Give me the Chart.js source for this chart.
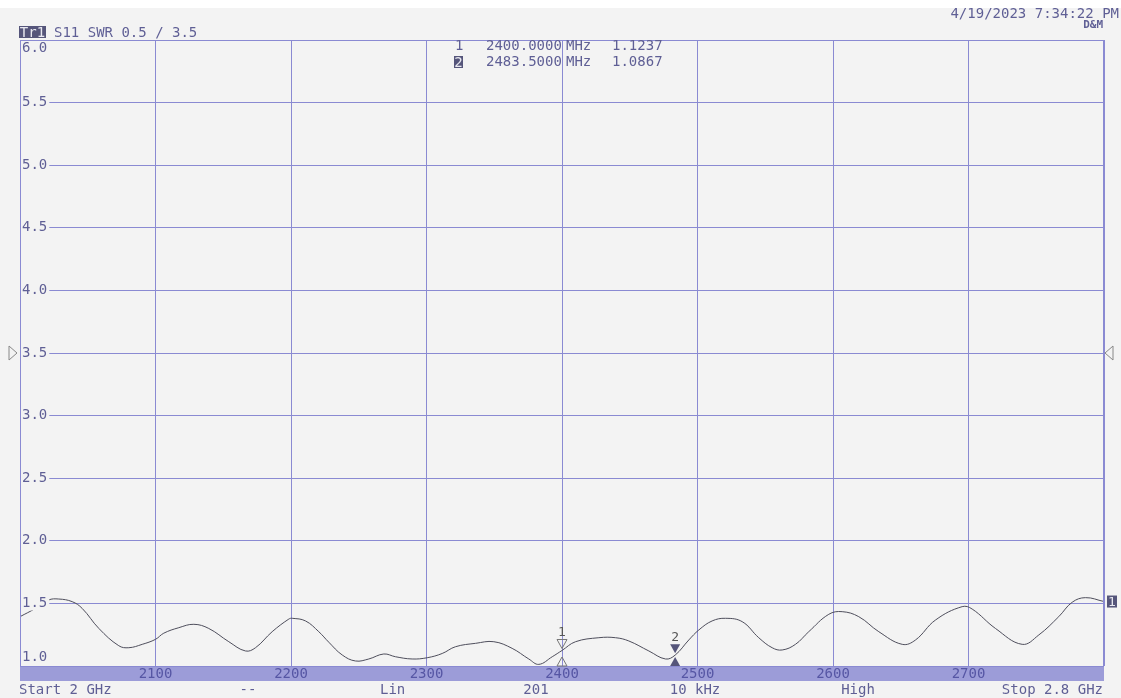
<!DOCTYPE html>
<html>
<head>
<meta charset="utf-8">
<script src="https://cdn.jsdelivr.net/npm/chart.js@4.4.0/dist/chart.umd.min.js"></script>
<style>
  html, body { margin: 0; padding: 0; background: #fff; }
  #wrap { width: 1121px; height: 698px; }
</style>
</head>
<body>
<div id="wrap"><canvas id="swr" width="1121" height="698"></canvas></div>
<script>
// trace S11 SWR
const freqMHz = [2000, 2011.4, 2021, 2028.6, 2038.5, 2045.9, 2058.2, 2072.9, 2080.3, 2090.2,
  2100, 2106.1, 2117.2, 2128.3, 2139.3, 2154.1, 2166.4, 2173.8, 2186.1, 2198.4,
  2200.9, 2210.7, 2220.5, 2227.9, 2237.8, 2247.6, 2257.4, 2268.5, 2277.1, 2289.4,
  2300.5, 2311.6, 2321.4, 2336.2, 2349.7, 2363.2, 2375.5, 2382.9, 2392.8, 2400,
  2410, 2427.2, 2439.5, 2449.3, 2464.1, 2476.4, 2483.5, 2493.6, 2501, 2510.8,
  2520.7, 2533, 2545.2, 2555.1, 2562.5, 2572.3, 2582.1, 2596.9, 2606.8, 2619,
  2633.8, 2651.1, 2660.9, 2675.6, 2695.3, 2702.7, 2719.9, 2739.6, 2751.9, 2766.6,
  2776.5, 2786.3, 2800];
const swr = [1.394, 1.46, 1.527, 1.535, 1.514, 1.46, 1.30, 1.162, 1.146, 1.173,
  1.213, 1.262, 1.306, 1.333, 1.30, 1.194, 1.12, 1.146, 1.274, 1.375,
  1.381, 1.36, 1.274, 1.19, 1.088, 1.04, 1.056, 1.096, 1.074, 1.056,
  1.066, 1.10, 1.154, 1.181, 1.194, 1.141, 1.056, 1.013, 1.074, 1.124,
  1.194, 1.226, 1.226, 1.20, 1.12, 1.056, 1.087, 1.208, 1.288, 1.36,
  1.381, 1.354, 1.226, 1.146, 1.128, 1.173, 1.274, 1.413, 1.434, 1.394,
  1.274, 1.173, 1.208, 1.367, 1.474, 1.455, 1.30, 1.173, 1.248, 1.394,
  1.509, 1.546, 1.515];

const yTicks = [1.0, 1.5, 2.0, 2.5, 3.0, 3.5, 4.0, 4.5, 5.0, 5.5, 6.0];
const xLabelTicks = [2100, 2200, 2300, 2400, 2500, 2600, 2700];
const markerFreq = [2400, 2483.5];
const markerSwr = [1.1237, 1.0867];
const refLevel = 3.5;
const footer = [['Start 2 GHz', 19, 'left'], ['--', 248, 'center'], ['Lin', 380, 'left'],
  ['201', 536, 'center'], ['10 kHz', 695, 'center'], ['High', 858, 'center'],
  ['Stop 2.8 GHz', 1103, 'right']];

const MONO = '"DejaVu Sans Mono", "Liberation Mono", monospace';
const gridColor = '#8a8ad2';
const textColor = '#5f5f95';
const bandColor = '#9c9cd8';
const bgColor = '#f3f3f3';

function tri(ctx, x, yTip, dir, filled) {
  // dir 1: points down (tip at bottom), -1: points up
  const h = 9, w = 5;
  ctx.beginPath();
  ctx.moveTo(x, yTip);
  ctx.lineTo(x - w, yTip - dir * h);
  ctx.lineTo(x + w, yTip - dir * h);
  ctx.closePath();
  if (filled) { ctx.fillStyle = '#55557a'; ctx.fill(); }
  else { ctx.strokeStyle = '#777'; ctx.lineWidth = 1; ctx.stroke(); }
}

function badge(ctx, txt, x, y, w) {
  ctx.fillStyle = '#55557a';
  ctx.fillRect(x, y - 6, w, 12);
  ctx.fillStyle = '#e8e8f0';
  ctx.textAlign = 'center';
  ctx.fillText(txt, x + w / 2, y + 1);
}

const screen = {
  id: 'screen',
  beforeDraw(chart) {
    const ctx = chart.ctx, a = chart.chartArea, xs = chart.scales.x;
    ctx.save();
    ctx.fillStyle = bgColor;
    ctx.fillRect(0, 8, chart.width, chart.height - 8);
    ctx.fillStyle = bandColor;
    ctx.fillRect(a.left, a.bottom, a.right - a.left, xs.bottom - a.bottom);
    ctx.restore();
  },
  afterDatasetsDraw(chart) {
    const ctx = chart.ctx, a = chart.chartArea;
    const xs = chart.scales.x, ys = chart.scales.y;
    ctx.save();
    // frame
    ctx.strokeStyle = gridColor;
    ctx.lineWidth = 1;
    ctx.strokeRect(a.left + 0.5, a.top + 0.5, a.right - a.left - 1, a.bottom - a.top);

    // y labels inside the plot
    ctx.font = '14px ' + MONO;
    ctx.textBaseline = 'middle';
    ctx.textAlign = 'left';
    yTicks.forEach((v, i) => {
      let y = ys.getPixelForValue(v);
      if (i === yTicks.length - 1) y += 8;
      if (i === 0) y -= 9;
      const t = v.toFixed(1);
      const w = ctx.measureText(t).width;
      ctx.fillStyle = bgColor;
      ctx.fillRect(a.left + 1, y - 7, w + 3, 14);
      ctx.fillStyle = textColor;
      ctx.fillText(t, a.left + 2, y);
    });

    // markers
    markerFreq.forEach((f, i) => {
      const x = xs.getPixelForValue(f);
      const y = ys.getPixelForValue(markerSwr[i]);
      const filled = i === 1;
      tri(ctx, x, y - 2, 1, filled);
      tri(ctx, x, a.bottom - 9, -1, filled);
      ctx.fillStyle = '#555';
      ctx.textAlign = 'center';
      ctx.font = '13px ' + MONO;
      ctx.fillText(String(i + 1), x, y - 18);
    });

    // reference level triangles
    const yr = ys.getPixelForValue(refLevel);
    ctx.strokeStyle = '#888';
    ctx.beginPath();
    ctx.moveTo(9, yr - 7); ctx.lineTo(17, yr); ctx.lineTo(9, yr + 7); ctx.closePath();
    ctx.stroke();
    ctx.beginPath();
    ctx.moveTo(a.right + 9, yr - 7); ctx.lineTo(a.right + 1, yr); ctx.lineTo(a.right + 9, yr + 7); ctx.closePath();
    ctx.stroke();

    // header
    ctx.font = '14px ' + MONO;
    badge(ctx, 'Tr1', 19, 32, 27);
    ctx.fillStyle = textColor;
    ctx.textAlign = 'left';
    ctx.fillText('S11 SWR 0.5 / 3.5', 54, 33);
    ctx.textAlign = 'right';
    ctx.fillText('4/19/2023 7:34:22 PM', 1119, 14);
    ctx.font = 'bold 11px ' + MONO;
    ctx.fillText('D&M', 1103, 25);

    // marker table
    ctx.font = '14px ' + MONO;
    ctx.fillStyle = textColor;
    ctx.textAlign = 'left';
    ctx.fillText('1', 455, 46);
    badge(ctx, '2', 454, 62, 9);
    ctx.font = '14px ' + MONO;
    ctx.fillStyle = textColor;
    ctx.textAlign = 'left';
    markerFreq.forEach((f, i) => {
      const y = 46 + i * 16;
      ctx.fillText(f.toFixed(4), 486, y);
      ctx.fillText('MHz', 566, y);
      ctx.fillText(markerSwr[i].toFixed(4), 612, y);
    });

    // trace end badge
    ctx.font = '13px ' + MONO;
    badge(ctx, '1', a.right + 3, ys.getPixelForValue(swr[swr.length - 1]), 10);

    // footer
    ctx.font = '14px ' + MONO;
    ctx.fillStyle = textColor;
    footer.forEach(([t, x, al]) => {
      ctx.textAlign = al;
      ctx.fillText(t, x, 690);
    });
    ctx.restore();
  }
};

new Chart(document.getElementById('swr'), {
  type: 'line',
  data: {
    datasets: [{
      data: freqMHz.map((f, i) => ({ x: f, y: swr[i] })),
      borderColor: '#4e4e5c',
      borderWidth: 1,
      pointRadius: 0,
      tension: 0.4,
      fill: false
    }]
  },
  options: {
    responsive: false,
    animation: false,
    devicePixelRatio: 1,
    layout: { padding: { left: 20, right: 17, top: 40, bottom: 17 } },
    plugins: { legend: { display: false }, tooltip: { enabled: false } },
    scales: {
      x: {
        type: 'linear',
        min: 2000,
        max: 2800,
        afterFit: s => { s.height = 15; },
        afterBuildTicks: s => {
          s.ticks = [2000].concat(xLabelTicks, [2800]).map(v => ({ value: v }));
        },
        grid: { color: gridColor, drawTicks: false },
        border: { display: false },
        ticks: {
          autoSkip: false,
          maxRotation: 0,
          padding: 0,
          color: '#5656a4',
          font: { family: MONO, size: 14 },
          callback: v => xLabelTicks.includes(v) ? String(v) : ''
        }
      },
      y: {
        min: 1,
        max: 6,
        afterFit: s => { s.width = 0; },
        grid: { color: gridColor, drawTicks: false },
        border: { display: false },
        ticks: { display: false, stepSize: 0.5 }
      }
    }
  },
  plugins: [screen]
});
</script>
</body>
</html>
